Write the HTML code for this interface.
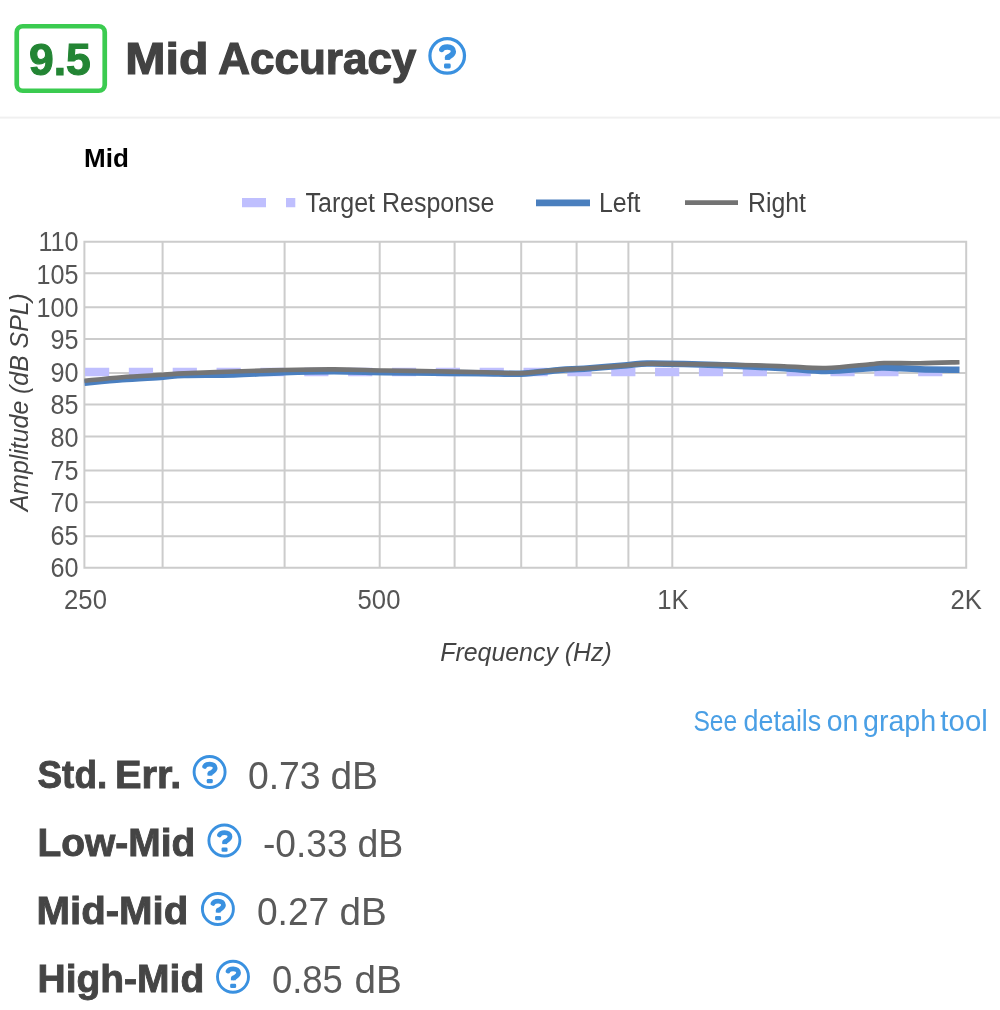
<!DOCTYPE html><html><head><meta charset="utf-8"><style>html,body{margin:0;padding:0;background:#fff;width:1000px;height:1010px;overflow:hidden;position:relative}</style></head><body>
<svg width="1000" height="1010" viewBox="0 0 1000 1010" style="position:absolute;left:0;top:0;font-family:'Liberation Sans', sans-serif;will-change:transform">
<rect x="16.75" y="26.25" width="88" height="64.5" rx="6" fill="none" stroke="#3bcb50" stroke-width="4.7"/>
<text x="29.01" y="74.5" font-size="43.5" font-weight="bold" fill="#238534" text-anchor="start" font-style="normal" textLength="61.8" lengthAdjust="spacingAndGlyphs" stroke="#238534" stroke-width="1.1">9.5</text>
<text x="125.36" y="74.3" font-size="44" font-weight="bold" fill="#424242" text-anchor="start" font-style="normal" textLength="83.17" lengthAdjust="spacingAndGlyphs" stroke="#424242" stroke-width="1.2">Mid</text>
<text x="218.3" y="74.3" font-size="44" font-weight="bold" fill="#424242" text-anchor="start" font-style="normal" textLength="198.01" lengthAdjust="spacingAndGlyphs" stroke="#424242" stroke-width="1.2">Accuracy</text>
<g transform="translate(447.2 55.8) scale(1.115)"><circle cx="0" cy="0" r="15.5" fill="none" stroke="#3a91e0" stroke-width="2.9"/><path d="M-4.9 -5.6 C-4.2 -7.3 -2.2 -7.9 0.2 -7.9 C3.4 -7.9 5.55 -6.3 5.55 -3.9 C5.55 -1.6 3.8 -0.6 2.2 0.4 C1.0 1.0 0.3 1.1 0.3 1.2" fill="none" stroke="#3a91e0" stroke-width="4.8" stroke-linecap="round"/><rect x="-2.1" y="1.2" width="4.8" height="2.4" fill="#3a91e0"/><rect x="-2.85" y="7" width="6" height="4.3" rx="1.3" fill="#3a91e0"/></g>
<rect x="0" y="116.6" width="1000" height="2" fill="#f0f0f0"/>
<text x="84" y="167.4" font-size="26" font-weight="bold" fill="#000" text-anchor="start" font-style="normal" >Mid</text>
<line x1="242" y1="202.6" x2="295.3" y2="202.6" stroke="#bfbffe" stroke-width="9.2" stroke-dasharray="24 20"/>
<text x="305.5" y="212.2" font-size="27" font-weight="normal" fill="#444" text-anchor="start" font-style="normal" textLength="189" lengthAdjust="spacingAndGlyphs" >Target Response</text>
<line x1="536" y1="202.9" x2="590" y2="202.9" stroke="#4a7fbe" stroke-width="6.6"/>
<text x="599" y="212.2" font-size="27" font-weight="normal" fill="#444" text-anchor="start" font-style="normal" textLength="41.5" lengthAdjust="spacingAndGlyphs" >Left</text>
<line x1="685" y1="202.7" x2="738" y2="202.7" stroke="#737373" stroke-width="4.7"/>
<text x="748" y="212.2" font-size="27" font-weight="normal" fill="#444" text-anchor="start" font-style="normal" textLength="58" lengthAdjust="spacingAndGlyphs" >Right</text>
<path d="M83.4 241.70H967.2M83.4 273.30H967.2M83.4 307.30H967.2M83.4 338.90H967.2M83.4 373.00H967.2M83.4 404.60H967.2M83.4 436.50H967.2M83.4 470.40H967.2M83.4 502.30H967.2M83.4 536.20H967.2M83.4 567.70H967.2M84.40 240.7V568.7M162.60 240.7V568.7M284.60 240.7V568.7M379.70 240.7V568.7M454.60 240.7V568.7M521.20 240.7V568.7M576.60 240.7V568.7M628.40 240.7V568.7M672.30 240.7V568.7M966.20 240.7V568.7" stroke="#cccccc" stroke-width="2" fill="none"/>
<text x="0" y="0" font-size="28" font-weight="normal" fill="#555" text-anchor="end" font-style="normal"  transform="translate(78.6 251.3) scale(0.9 1)">110</text>
<text x="0" y="0" font-size="28" font-weight="normal" fill="#555" text-anchor="end" font-style="normal"  transform="translate(78.6 283.9) scale(0.9 1)">105</text>
<text x="0" y="0" font-size="28" font-weight="normal" fill="#555" text-anchor="end" font-style="normal"  transform="translate(78.6 316.5) scale(0.9 1)">100</text>
<text x="0" y="0" font-size="28" font-weight="normal" fill="#555" text-anchor="end" font-style="normal"  transform="translate(78.6 349.1) scale(0.9 1)">95</text>
<text x="0" y="0" font-size="28" font-weight="normal" fill="#555" text-anchor="end" font-style="normal"  transform="translate(78.6 381.7) scale(0.9 1)">90</text>
<text x="0" y="0" font-size="28" font-weight="normal" fill="#555" text-anchor="end" font-style="normal"  transform="translate(78.6 414.3) scale(0.9 1)">85</text>
<text x="0" y="0" font-size="28" font-weight="normal" fill="#555" text-anchor="end" font-style="normal"  transform="translate(78.6 446.9) scale(0.9 1)">80</text>
<text x="0" y="0" font-size="28" font-weight="normal" fill="#555" text-anchor="end" font-style="normal"  transform="translate(78.6 479.5) scale(0.9 1)">75</text>
<text x="0" y="0" font-size="28" font-weight="normal" fill="#555" text-anchor="end" font-style="normal"  transform="translate(78.6 512.1) scale(0.9 1)">70</text>
<text x="0" y="0" font-size="28" font-weight="normal" fill="#555" text-anchor="end" font-style="normal"  transform="translate(78.6 544.7) scale(0.9 1)">65</text>
<text x="0" y="0" font-size="28" font-weight="normal" fill="#555" text-anchor="end" font-style="normal"  transform="translate(78.6 577.3) scale(0.9 1)">60</text>
<text x="0" y="0" font-size="28.5" font-weight="normal" fill="#555" text-anchor="middle" font-style="normal"  transform="translate(85.5 608.8) scale(0.9 1)">250</text>
<text x="0" y="0" font-size="28.5" font-weight="normal" fill="#555" text-anchor="middle" font-style="normal"  transform="translate(379 608.8) scale(0.9 1)">500</text>
<text x="0" y="0" font-size="28.5" font-weight="normal" fill="#555" text-anchor="middle" font-style="normal"  transform="translate(673 608.8) scale(0.9 1)">1K</text>
<text x="0" y="0" font-size="28.5" font-weight="normal" fill="#555" text-anchor="middle" font-style="normal"  transform="translate(966.2 608.8) scale(0.9 1)">2K</text>
<text x="526" y="661" font-size="26" font-weight="normal" fill="#444" text-anchor="middle" font-style="italic" textLength="171.5" lengthAdjust="spacingAndGlyphs" >Frequency (Hz)</text>
<g transform="translate(27.5 402.2) rotate(-90)">
<text x="0" y="0" font-size="26" font-weight="normal" fill="#444" text-anchor="middle" font-style="italic" textLength="218" lengthAdjust="spacingAndGlyphs" >Amplitude (dB SPL)</text>
</g>
<line x1="85" y1="372" x2="959.5" y2="372" stroke="#bfbffe" stroke-width="8.4" stroke-dasharray="24.2 19.65"/>
<path fill="none" stroke="#4a7fc0" stroke-width="6.5" stroke-linejoin="round" d="M84.50 382.75 C90.75 382.17 108.92 380.25 122.00 379.25 C135.08 378.25 152.67 377.46 163.00 376.75 C173.33 376.04 172.17 375.38 184.00 375.00 C195.83 374.62 217.33 374.97 234.00 374.50 C250.67 374.03 267.33 372.73 284.00 372.20 C300.67 371.67 317.33 371.30 334.00 371.30 C350.67 371.30 367.33 371.95 384.00 372.20 C400.67 372.45 417.33 372.63 434.00 372.80 C450.67 372.97 469.50 373.05 484.00 373.20 C498.50 373.35 508.33 374.23 521.00 373.70 C533.67 373.17 549.50 370.83 560.00 370.00 C570.50 369.17 572.83 369.50 584.00 368.70 C595.17 367.90 616.50 366.07 627.00 365.20 C637.50 364.33 637.50 363.70 647.00 363.50 C656.50 363.30 669.50 363.63 684.00 364.00 C698.50 364.37 717.33 364.98 734.00 365.70 C750.67 366.42 768.67 367.42 784.00 368.30 C799.33 369.18 811.67 371.00 826.00 371.00 C840.33 371.00 860.33 368.88 870.00 368.30 C879.67 367.72 875.67 367.35 884.00 367.50 C892.33 367.65 907.42 368.83 920.00 369.20 C932.58 369.57 952.92 369.62 959.50 369.70"/>
<path fill="none" stroke="#757575" stroke-width="4.6" stroke-linejoin="round" d="M84.50 380.80 C90.75 380.20 108.92 378.20 122.00 377.20 C135.08 376.20 152.67 375.43 163.00 374.80 C173.33 374.17 172.17 373.95 184.00 373.40 C195.83 372.85 217.33 372.07 234.00 371.50 C250.67 370.93 267.33 370.35 284.00 370.00 C300.67 369.65 317.33 369.32 334.00 369.40 C350.67 369.48 367.33 370.18 384.00 370.50 C400.67 370.82 417.33 371.00 434.00 371.30 C450.67 371.60 469.50 371.98 484.00 372.30 C498.50 372.62 508.33 373.63 521.00 373.20 C533.67 372.77 549.50 370.48 560.00 369.70 C570.50 368.92 572.83 369.25 584.00 368.50 C595.17 367.75 616.50 366.00 627.00 365.20 C637.50 364.40 637.50 363.88 647.00 363.70 C656.50 363.52 669.50 363.93 684.00 364.10 C698.50 364.27 717.33 364.33 734.00 364.70 C750.67 365.07 768.67 365.75 784.00 366.30 C799.33 366.85 811.67 368.35 826.00 368.00 C840.33 367.65 860.33 365.03 870.00 364.20 C879.67 363.37 875.67 363.17 884.00 363.00 C892.33 362.83 907.42 363.33 920.00 363.20 C932.58 363.07 952.92 362.37 959.50 362.20"/>
<text x="693.39" y="730.5" font-size="29" font-weight="normal" fill="#4a9fe5" text-anchor="start" font-style="normal" textLength="43.86" lengthAdjust="spacingAndGlyphs" >See</text>
<text x="743.62" y="730.5" font-size="29" font-weight="normal" fill="#4a9fe5" text-anchor="start" font-style="normal" textLength="77.66" lengthAdjust="spacingAndGlyphs" >details</text>
<text x="826.74" y="730.5" font-size="29" font-weight="normal" fill="#4a9fe5" text-anchor="start" font-style="normal" textLength="31.69" lengthAdjust="spacingAndGlyphs" >on</text>
<text x="862.96" y="730.5" font-size="29" font-weight="normal" fill="#4a9fe5" text-anchor="start" font-style="normal" textLength="73.27" lengthAdjust="spacingAndGlyphs" >graph</text>
<text x="940.37" y="730.5" font-size="29" font-weight="normal" fill="#4a9fe5" text-anchor="start" font-style="normal" textLength="47.46" lengthAdjust="spacingAndGlyphs" >tool</text>
<text x="37.52" y="788.3" font-size="39.5" font-weight="bold" fill="#454545" text-anchor="start" font-style="normal" textLength="69.66" lengthAdjust="spacingAndGlyphs" stroke="#454545" stroke-width="0.9">Std.</text>
<text x="115.03" y="788.3" font-size="39.5" font-weight="bold" fill="#454545" text-anchor="start" font-style="normal" textLength="66.38" lengthAdjust="spacingAndGlyphs" stroke="#454545" stroke-width="0.9">Err.</text>
<g transform="translate(209.6 772) scale(1.0)"><circle cx="0" cy="0" r="15.5" fill="none" stroke="#3a91e0" stroke-width="2.9"/><path d="M-4.9 -5.6 C-4.2 -7.3 -2.2 -7.9 0.2 -7.9 C3.4 -7.9 5.55 -6.3 5.55 -3.9 C5.55 -1.6 3.8 -0.6 2.2 0.4 C1.0 1.0 0.3 1.1 0.3 1.2" fill="none" stroke="#3a91e0" stroke-width="4.8" stroke-linecap="round"/><rect x="-2.1" y="1.2" width="4.8" height="2.4" fill="#3a91e0"/><rect x="-2.85" y="7" width="6" height="4.3" rx="1.3" fill="#3a91e0"/></g>
<text x="247.88" y="789" font-size="38.5" font-weight="normal" fill="#5a5a5a" text-anchor="start" font-style="normal" textLength="72.72" lengthAdjust="spacingAndGlyphs" >0.73</text>
<text x="330.47" y="789" font-size="38.5" font-weight="normal" fill="#5a5a5a" text-anchor="start" font-style="normal" textLength="47.58" lengthAdjust="spacingAndGlyphs" >dB</text>
<text x="37.47" y="856.3" font-size="39.5" font-weight="bold" fill="#454545" text-anchor="start" font-style="normal" textLength="157.76" lengthAdjust="spacingAndGlyphs" stroke="#454545" stroke-width="0.9">Low-Mid</text>
<g transform="translate(224.4 840.5) scale(1.0)"><circle cx="0" cy="0" r="15.5" fill="none" stroke="#3a91e0" stroke-width="2.9"/><path d="M-4.9 -5.6 C-4.2 -7.3 -2.2 -7.9 0.2 -7.9 C3.4 -7.9 5.55 -6.3 5.55 -3.9 C5.55 -1.6 3.8 -0.6 2.2 0.4 C1.0 1.0 0.3 1.1 0.3 1.2" fill="none" stroke="#3a91e0" stroke-width="4.8" stroke-linecap="round"/><rect x="-2.1" y="1.2" width="4.8" height="2.4" fill="#3a91e0"/><rect x="-2.85" y="7" width="6" height="4.3" rx="1.3" fill="#3a91e0"/></g>
<text x="262.88" y="857" font-size="38.5" font-weight="normal" fill="#5a5a5a" text-anchor="start" font-style="normal" textLength="84.71" lengthAdjust="spacingAndGlyphs" >-0.33</text>
<text x="357.5" y="857" font-size="38.5" font-weight="normal" fill="#5a5a5a" text-anchor="start" font-style="normal" textLength="45.8" lengthAdjust="spacingAndGlyphs" >dB</text>
<text x="36.49" y="924.3" font-size="39.5" font-weight="bold" fill="#454545" text-anchor="start" font-style="normal" textLength="151.88" lengthAdjust="spacingAndGlyphs" stroke="#454545" stroke-width="0.9">Mid-Mid</text>
<g transform="translate(217.9 909) scale(1.0)"><circle cx="0" cy="0" r="15.5" fill="none" stroke="#3a91e0" stroke-width="2.9"/><path d="M-4.9 -5.6 C-4.2 -7.3 -2.2 -7.9 0.2 -7.9 C3.4 -7.9 5.55 -6.3 5.55 -3.9 C5.55 -1.6 3.8 -0.6 2.2 0.4 C1.0 1.0 0.3 1.1 0.3 1.2" fill="none" stroke="#3a91e0" stroke-width="4.8" stroke-linecap="round"/><rect x="-2.1" y="1.2" width="4.8" height="2.4" fill="#3a91e0"/><rect x="-2.85" y="7" width="6" height="4.3" rx="1.3" fill="#3a91e0"/></g>
<text x="256.92" y="925" font-size="38.5" font-weight="normal" fill="#5a5a5a" text-anchor="start" font-style="normal" textLength="72.31" lengthAdjust="spacingAndGlyphs" >0.27</text>
<text x="339.43" y="925" font-size="38.5" font-weight="normal" fill="#5a5a5a" text-anchor="start" font-style="normal" textLength="47.27" lengthAdjust="spacingAndGlyphs" >dB</text>
<text x="37.47" y="992.3" font-size="39.5" font-weight="bold" fill="#454545" text-anchor="start" font-style="normal" textLength="166.77" lengthAdjust="spacingAndGlyphs" stroke="#454545" stroke-width="0.9">High-Mid</text>
<g transform="translate(233 976.7) scale(1.0)"><circle cx="0" cy="0" r="15.5" fill="none" stroke="#3a91e0" stroke-width="2.9"/><path d="M-4.9 -5.6 C-4.2 -7.3 -2.2 -7.9 0.2 -7.9 C3.4 -7.9 5.55 -6.3 5.55 -3.9 C5.55 -1.6 3.8 -0.6 2.2 0.4 C1.0 1.0 0.3 1.1 0.3 1.2" fill="none" stroke="#3a91e0" stroke-width="4.8" stroke-linecap="round"/><rect x="-2.1" y="1.2" width="4.8" height="2.4" fill="#3a91e0"/><rect x="-2.85" y="7" width="6" height="4.3" rx="1.3" fill="#3a91e0"/></g>
<text x="271.89" y="993" font-size="38.5" font-weight="normal" fill="#5a5a5a" text-anchor="start" font-style="normal" textLength="70.92" lengthAdjust="spacingAndGlyphs" >0.85</text>
<text x="354.43" y="993" font-size="38.5" font-weight="normal" fill="#5a5a5a" text-anchor="start" font-style="normal" textLength="47.27" lengthAdjust="spacingAndGlyphs" >dB</text>
</svg>
</body></html>
